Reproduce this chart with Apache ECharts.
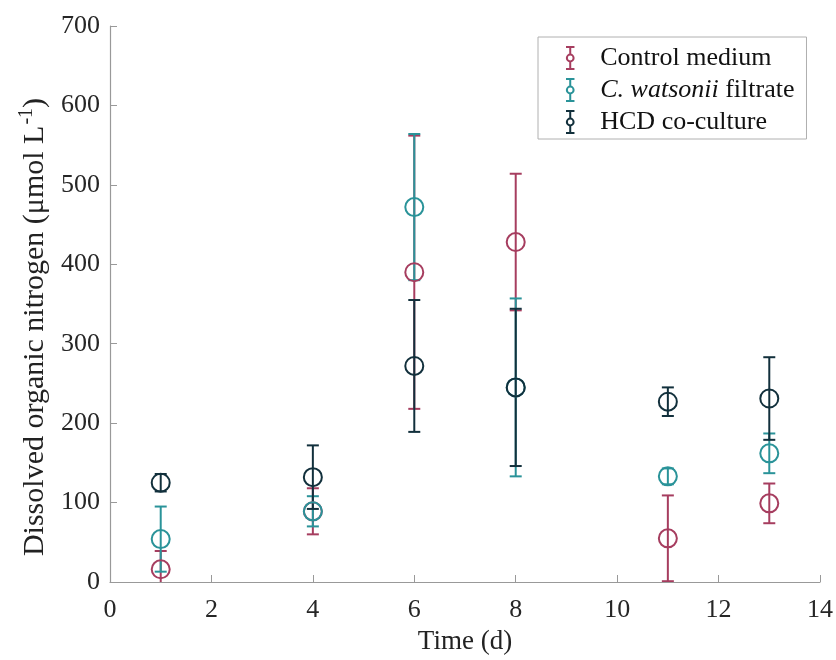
<!DOCTYPE html>
<html><head><meta charset="utf-8">
<script src="https://cdn.jsdelivr.net/npm/echarts@6/dist/echarts.min.js"></script>
<style>html,body{margin:0;padding:0;background:#fff}#c{width:836px;height:660px}</style>
</head><body><div id="c"></div>
<script>
var days = [1, 4, 6, 8, 11, 13];
var controlMean = [16, 89, 390, 428, 55, 99];
var controlErr = [23, 29, 172, 86, 54, 25];
var filtrateMean = [54, 89, 472, 245, 133, 162];
var filtrateErr = [41, 19, 92, 112, 10, 25];
var hcdMean = [125, 132, 272, 245, 227, 231];
var hcdErr = [11, 40, 83, 99, 18, 52];
var xTicks = [0, 2, 4, 6, 8, 10, 12, 14];
var yTicks = [0, 100, 200, 300, 400, 500, 600, 700];

var groups = [
  {name: 'Control medium', mean: controlMean, err: controlErr, color: '#a63d5f'},
  {name: 'C. watsonii filtrate', mean: filtrateMean, err: filtrateErr, color: '#2a9399'},
  {name: 'HCD co-culture', mean: hcdMean, err: hcdErr, color: '#12303c'}
];

var FONT = '"Liberation Serif", "DejaVu Serif", serif';
var series = [];
groups.forEach(function (g) {
  var ebData = days.map(function (d, i) { return [d, g.mean[i] - g.err[i], g.mean[i] + g.err[i]]; });
  series.push({
    type: 'custom', name: g.name + ' err', clip: true, z: 2,
    data: ebData,
    renderItem: function (params, api) {
      var lo = api.coord([api.value(0), api.value(1)]);
      var hi = api.coord([api.value(0), api.value(2)]);
      var w = 6;
      var st = {stroke: g.color, lineWidth: 2};
      return {type: 'group', children: [
        {type: 'line', shape: {x1: lo[0], y1: lo[1], x2: hi[0], y2: hi[1]}, style: st},
        {type: 'line', shape: {x1: lo[0] - w, y1: lo[1], x2: lo[0] + w, y2: lo[1]}, style: st},
        {type: 'line', shape: {x1: hi[0] - w, y1: hi[1], x2: hi[0] + w, y2: hi[1]}, style: st}
      ]};
    },
    encode: {x: 0, y: [1, 2]}
  });
  series.push({
    type: 'scatter', name: g.name, z: 3,
    symbol: 'circle', symbolSize: 18,
    itemStyle: {color: 'rgba(0,0,0,0)', borderColor: g.color, borderWidth: 2, opacity: 1},
    data: days.map(function (d, i) { return [d, g.mean[i]]; })
  });
});

var iconPath = 'path://M0,0 L10,0 M5,0 L5,9 M5,17 L5,26 M0,26 L10,26 M5,9 A4,4 0 1 1 5,17 A4,4 0 1 1 5,9 Z';

var chart = echarts.init(document.getElementById('c'));
chart.setOption({
  animation: false,
  backgroundColor: '#fff',
  grid: {left: 110, right: 16, top: 26, bottom: 77},
  legend: {
    left: 538, top: 37,
    orient: 'vertical',
    borderColor: '#b0b0b0', borderWidth: 1,
    padding: [8, 12, 4, 27],
    itemGap: 6, itemWidth: 10, itemHeight: 22,
    data: groups.map(function (g) {
      return {name: g.name, icon: iconPath,
        itemStyle: {color: 'rgba(0,0,0,0)', borderColor: g.color, borderWidth: 2}};
    }),
    formatter: function (n) {
      if (n === 'C. watsonii filtrate') return '{i|C. watsonii} filtrate';
      return n;
    },
    textStyle: {fontFamily: FONT, fontSize: 26, color: '#111', padding: [0, 0, 0, 20],
      rich: {i: {fontFamily: FONT, fontSize: 26, fontStyle: 'italic', color: '#111'}}}
  },
  xAxis: {
    type: 'value', min: 0, max: 14, interval: 2,
    name: 'Time (d)', nameLocation: 'middle', nameGap: 46,
    nameTextStyle: {fontFamily: FONT, fontSize: 27, color: '#222'},
    axisLine: {lineStyle: {color: '#999', width: 1.2}},
    axisTick: {inside: true, length: 7, lineStyle: {color: '#999'}},
    axisLabel: {fontFamily: FONT, fontSize: 26, color: '#262626', margin: 15},
    splitLine: {show: false}
  },
  yAxis: {
    type: 'value', min: 0, max: 700, interval: 100,
    name: 'Dissolved organic nitrogen (\u03bcmol L{sup|-1})', nameLocation: 'middle', nameGap: 56,
    nameTextStyle: {fontFamily: FONT, fontSize: 30, color: '#222', padding: [0, 46, 0, 0],
      rich: {sup: {fontFamily: FONT, fontSize: 20, color: '#222', verticalAlign: 'top', padding: [0, 0, 16, 1]}}},
    axisLine: {show: true, lineStyle: {color: '#999', width: 1.2}},
    axisTick: {show: true, inside: true, length: 7, lineStyle: {color: '#999'}},
    axisLabel: {fontFamily: FONT, fontSize: 26, color: '#262626', margin: 10},
    splitLine: {show: false}
  },
  series: series
});
</script>
</body></html>
